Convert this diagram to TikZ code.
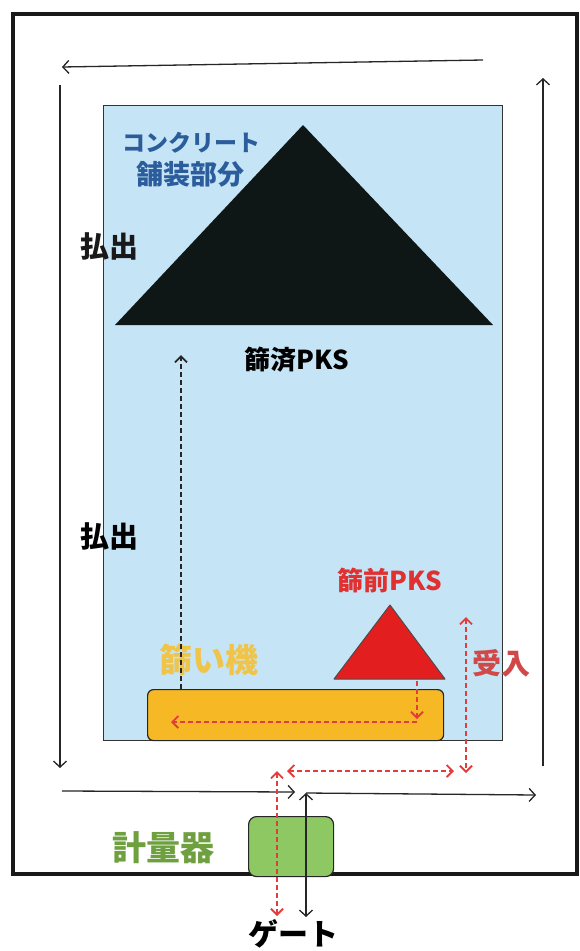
\documentclass[tikz,border=0pt]{standalone}
\usepackage{fontspec}
\newfontfamily\jp{Noto Sans CJK JP}
\usetikzlibrary{arrows.meta}
\definecolor{bgblue}{RGB}{197,228,245}
\definecolor{triblack}{RGB}{14,22,22}
\definecolor{trired}{RGB}{226,30,30}
\definecolor{boxyellow}{RGB}{246,184,37}
\definecolor{boxgreen}{RGB}{141,200,99}
\definecolor{txtblue}{RGB}{43,92,155}
\definecolor{txtred}{RGB}{224,48,48}
\definecolor{txtred2}{RGB}{208,72,72}
\definecolor{txtgreen}{RGB}{111,160,64}
\definecolor{txtyellow}{RGB}{240,196,72}
\definecolor{dashred}{RGB}{228,60,60}
\tikzset{
  tip/.tip={Straight Barb[length=6pt,width=13pt,line width=1.3pt]},
  rtip/.tip={Straight Barb[length=6pt,width=12pt,line width=1.8pt]},
  arr/.style={-tip, line width=1.3pt, draw=black!85},
  darr/.style={tip-tip, line width=1.3pt, draw=black!85},
  kdash/.style={-rtip, line width=2pt, draw=black!85, dash pattern=on 5pt off 3pt},
  rdash/.style={-rtip, line width=2pt, draw=dashred, dash pattern=on 5pt off 3pt},
  rddash/.style={rtip-rtip, line width=2pt, draw=dashred, dash pattern=on 5pt off 3pt},
  lbl/.style={inner sep=0pt, font=\jp\bfseries},
}
\begin{document}
\begin{tikzpicture}[x=1pt,y=-1pt]
\useasboundingbox (0,0) rectangle (580,951);
\fill[white] (0,0) rectangle (580,951);
% outer frame
\draw[line width=4pt, black!90] (13,14) rectangle (577,874);
% paved area
\node[draw=black!80, line width=1pt, fill=bgblue, minimum width=399pt, minimum height=635pt, inner sep=0pt, anchor=north west] (area) at (103,105) {};
% black triangle (screened PKS)
\coordinate (bt1) at (303,125);
\coordinate (bt2) at (115,325);
\coordinate (bt3) at (493,325);
\fill[triblack] (bt1) -- (bt2) -- (bt3) -- cycle;
% screen machine
\node[draw=black!85, line width=1.2pt, fill=boxyellow, rounded corners=6pt, minimum width=296pt, minimum height=51pt, inner sep=0pt, anchor=north west] (screen) at (147,689) {};
% red triangle (pre-screen PKS)
\coordinate (rt1) at (390,605);
\coordinate (rt2) at (334,679);
\coordinate (rt3) at (445,679);
\draw[fill=trired, draw=black!70, line width=1pt, line join=round] (rt1) -- (rt2) -- (rt3) -- cycle;
% weighing scale
\node[draw=black!85, line width=1.2pt, fill=boxgreen, rounded corners=8pt, minimum width=85pt, minimum height=60pt, inner sep=0pt, anchor=north west] (scale) at (248,816) {};

% labels
\node[lbl, text=txtblue, font=\jp\bfseries\fontsize{23}{23}\selectfont] (t1) at (191,143) {コンクリート};
\node[lbl, text=txtblue, font=\jp\bfseries\fontsize{27}{27}\selectfont] (t2) at (190,174) {舗装部分};
\node[lbl, text=black!90, font=\jp\bfseries\fontsize{29}{29}\selectfont] (h1) at (109,246) {払出};
\node[lbl, text=black, font=\jp\bfseries\fontsize{29}{29}\selectfont] (h2) at (109,536) {払出};
\node[lbl, text=black, font=\jp\bfseries\fontsize{26}{26}\selectfont] (p1) at (297,360) {篩済PKS};
\node[lbl, text=txtred, font=\jp\bfseries\fontsize{26}{26}\selectfont] (p2) at (390,580) {篩前PKS};
\node[lbl, text=txtyellow, font=\jp\bfseries\fontsize{33}{33}\selectfont] (sc) at (209,660) {篩い機};
\node[lbl, text=txtred2, font=\jp\bfseries\fontsize{29}{29}\selectfont] (uk) at (501,663) {受入};
\node[lbl, text=txtgreen, font=\jp\bfseries\fontsize{34}{34}\selectfont] (kr) at (163,848) {計量器};
\node[lbl, text=black, font=\jp\bfseries\fontsize{30}{30}\selectfont] (gt) at (293,934) {ゲート};

% circulation arrows
\coordinate (tA) at (483,60);
\coordinate (tB) at (62,67);
\coordinate (lA) at (60,85);
\coordinate (lB) at (60,768);
\coordinate (bA) at (62,791);
\coordinate (bB) at (295,792);
\coordinate (bC) at (306,793);
\coordinate (bD) at (536,795);
\coordinate (rA) at (543,766);
\coordinate (rB) at (543,78);
\coordinate (gB) at (306,917);
\draw[arr] (tA) -- (tB);
\draw[arr] (lA) -- (lB);
\draw[arr] (bA) -- (bB);
\draw[arr] (bC) -- (bD);
\draw[arr] (rA) -- (rB);
\draw[darr] (bC) -- (gB);

% black dashed: screen -> screened PKS
\coordinate (kA) at (181,689);
\coordinate (kB) at (181,355);
\draw[kdash] (kA) -- (kB);

% red dashed flows
\coordinate (r1) at (417,681);
\coordinate (r2) at (417,719);
\coordinate (r3) at (417,722);
\coordinate (r4) at (171,722);
\draw[rdash] (r1) -- (r2);
\draw[rdash] (r3) -- (r4);
\coordinate (rvA) at (466,617);
\coordinate (rvB) at (466,773);
\draw[rddash] (rvA) -- (rvB);
\coordinate (rhA) at (287,771);
\coordinate (rhB) at (454,771);
\draw[rddash] (rhA) -- (rhB);
\coordinate (rgA) at (277,771);
\coordinate (rgB) at (277,916);
\draw[rddash] (rgA) -- (rgB);
\end{tikzpicture}
\end{document}
